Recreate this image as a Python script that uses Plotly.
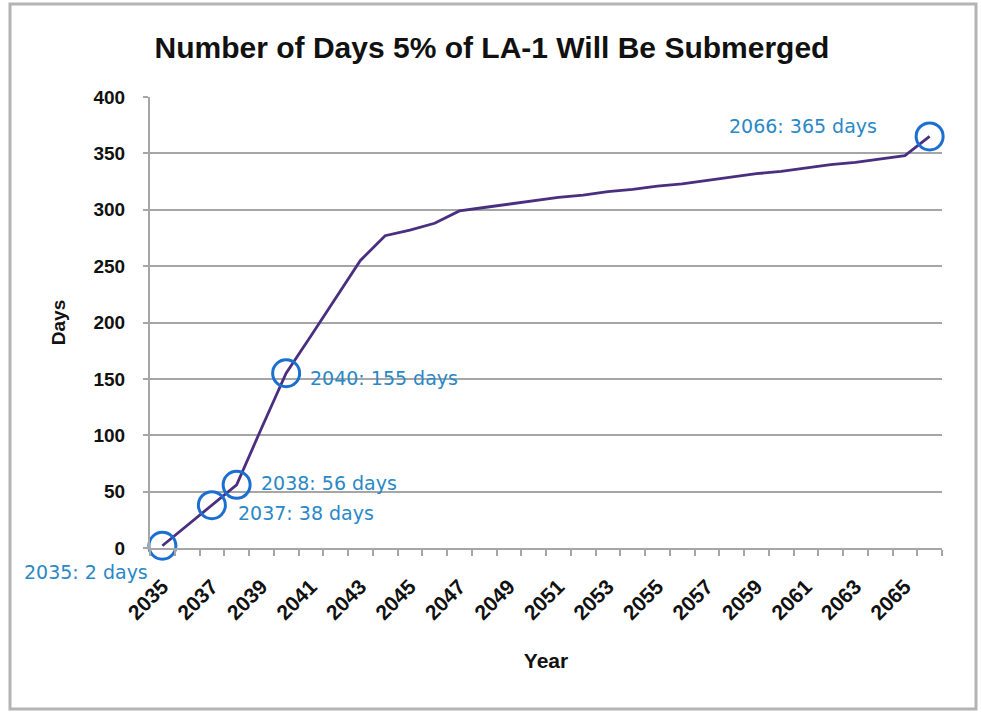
import plotly.graph_objects as go

# Days per year on which 5% of LA-1 is underwater
years = list(range(2035, 2067))
days = [2, 20, 38, 56, 106, 155, 188, 222, 255, 277, 282, 288, 299, 302, 305, 308,
        311, 313, 316, 318, 321, 323, 326, 329, 332, 334, 337, 340, 342, 345, 348, 365]

# Highlighted years (circled and labelled)
callout_years = [2035, 2037, 2038, 2040, 2066]

x_tick_years = list(range(2035, 2067, 2))
y_tick_values = list(range(0, 401, 50))

# Page geometry (pixels)
W, H = 981, 714
PLOT_L, PLOT_R, PLOT_T, PLOT_B = 150, 942, 97, 548

FONT = "Liberation Sans"
GRID = "#a6a6a6"
LINE_COLOR = "#4a2f80"
CIRCLE_COLOR = "#1b6fd0"
LABEL_COLOR = "#2a88c6"

callout_days = [days[years.index(y)] for y in callout_years]

fig = go.Figure()

fig.add_trace(go.Scatter(
    x=years, y=days, mode="lines",
    line=dict(color=LINE_COLOR, width=2.8),
    hoverinfo="skip", showlegend=False,
))

fig.add_trace(go.Scatter(
    x=callout_years, y=callout_days, mode="markers",
    marker=dict(symbol="circle-open", size=27, color=CIRCLE_COLOR,
                line=dict(width=3, color=CIRCLE_COLOR)),
    cliponaxis=False, hoverinfo="skip", showlegend=False,
))

# label placement: (xanchor, xshift, yshift)
placement = {
    2035: ("right", -12, -26),
    2037: ("left", 24, -8),
    2038: ("left", 22, 2),
    2040: ("left", 22, -5),
    2066: ("right", -51, 10),
}
for yr, d in zip(callout_years, callout_days):
    anchor, xs, ys = placement[yr]
    fig.add_annotation(
        x=yr, y=d, xref="x", yref="y", text=f"{yr}: {d} days",
        showarrow=False, xanchor=anchor, yanchor="middle",
        xshift=xs, yshift=ys,
        font=dict(family="DejaVu Sans", size=19, color=LABEL_COLOR),
    )

# outer chart border
pw, ph = PLOT_R - PLOT_L, PLOT_B - PLOT_T
def px_x(p):
    return (p - PLOT_L) / pw
def px_y(p):
    return (PLOT_B - p) / ph

fig.add_shape(type="rect", xref="paper", yref="paper",
              x0=px_x(10), x1=px_x(976), y0=px_y(709), y1=px_y(4),
              line=dict(color="#b4b4b4", width=3), layer="below")

fig.update_layout(
    width=W, height=H,
    margin=dict(l=PLOT_L, r=W - PLOT_R, t=PLOT_T, b=H - PLOT_B),
    paper_bgcolor="white", plot_bgcolor="white",
    font=dict(family=FONT, color="#000000"),
    title=dict(text="<b>Number of Days 5% of LA-1 Will Be Submerged</b>",
               font=dict(family=FONT, size=30, color="#111111"),
               xref="container", x=492 / W, xanchor="center",
               yref="container", y=1 - 47 / H, yanchor="middle"),
    xaxis=dict(
        range=[2034.5, 2066.5],
        tickmode="array", tickvals=x_tick_years,
        ticktext=[f"<b>{y}</b>" for y in x_tick_years],
        tickangle=-45, ticks="", tickfont=dict(family=FONT, size=21, color="#111111"),
        ticklabelstandoff=16,
        minor=dict(tick0=2034.5, dtick=1, ticks="outside", ticklen=6,
                   tickcolor=GRID, tickwidth=2, showgrid=False),
        showgrid=False, zeroline=False,
        showline=True, linecolor=GRID, linewidth=2,
        title=dict(text="<b>Year</b>", font=dict(family=FONT, size=21, color="#111111"),
                   standoff=30),
    ),
    yaxis=dict(
        range=[0, 400], tickmode="array", tickvals=y_tick_values,
        ticktext=[f"<b>{v}</b>" for v in y_tick_values],
        ticks="outside", ticklen=5, tickcolor=GRID, tickwidth=2,
        tickfont=dict(family=FONT, size=19, color="#111111"),
        ticklabelstandoff=14,
        showgrid=True, gridcolor=GRID, gridwidth=2,
        zeroline=False, showline=True, linecolor=GRID, linewidth=2,
        title=dict(text="<b>Days</b>", font=dict(family=FONT, size=19, color="#111111"),
                   standoff=23),
    ),
)

fig.write_html("out.html")
